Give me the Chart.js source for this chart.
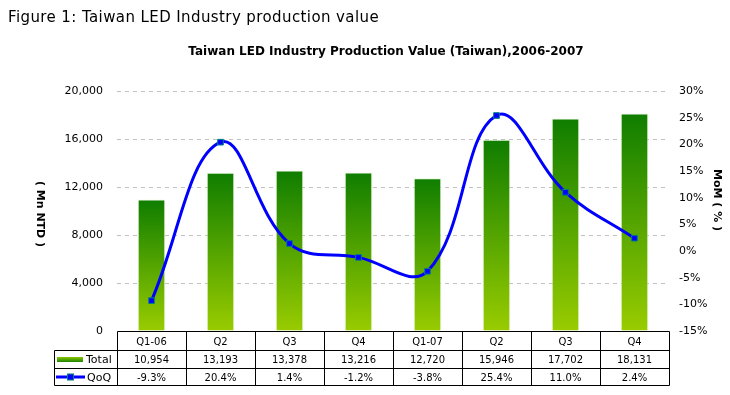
<!DOCTYPE html>
<html lang="en">
<head>
  <meta charset="UTF-8">
  <title>Taiwan LED Industry production value</title>
  <script src="https://cdn.jsdelivr.net/npm/chart.js"></script>
  <style>
    body { margin: 0; background: #fff; }
    #wrap { position: relative; width: 730px; height: 395px; }
    #figTitle {
      position: absolute; left: 8px; top: 8px;
      font: 15px "DejaVu Sans", Verdana, sans-serif; color: #000;
      letter-spacing: 0.4px;
      line-height: 18px; white-space: nowrap;
    }
    canvas { position: absolute; left: 0; top: 0; }
  </style>
</head>
<body>
<div id="wrap">
  <canvas id="grafico" width="730" height="395"></canvas>
  <div id="figTitle">Figure 1: Taiwan LED Industry production value</div>
</div>

<script>
  // dados
  const quarters = ['Q1-06', 'Q2', 'Q3', 'Q4', 'Q1-07', 'Q2', 'Q3', 'Q4'];
  const totalValues = [10954, 13193, 13378, 13216, 12720, 15946, 17702, 18131];
  const qoqValues = [-9.3, 20.4, 1.4, -1.2, -3.8, 25.4, 11.0, 2.4];
  const leftTicks = [0, 4000, 8000, 12000, 16000, 20000];
  const rightTicks = [-15, -10, -5, 0, 5, 10, 15, 20, 25, 30];

  const chartTitle = 'Taiwan LED Industry Production Value (Taiwan),2006-2007';
  const leftAxisTitle = '( Mn NTD )';
  const rightAxisTitle = 'MoM ( % )';

  const FONT = '"DejaVu Sans", Verdana, sans-serif';
  const GREEN_TOP = '#0f7d00';
  const GREEN_BOTTOM = '#99cc00';

  function fmt(n) {
    return n.toString().replace(/\B(?=(\d{3})+(?!\d))/g, ',');
  }

  function barGradient(c) {
    const chart = c.chart;
    if (!chart.chartArea || c.type !== 'data') return '#4c9f00';
    const y = chart.scales.y;
    const top = y.getPixelForValue(c.raw);
    const bottom = y.getPixelForValue(0);
    const g = chart.ctx.createLinearGradient(0, top, 0, bottom);
    g.addColorStop(0, GREEN_TOP);
    g.addColorStop(1, GREEN_BOTTOM);
    return g;
  }

  // títulos e tabela de dados desenhados por cima
  const extras = {
    id: 'extras',
    afterDraw(chart) {
      const ctx = chart.ctx;
      const area = chart.chartArea;
      const x = chart.scales.x;

      ctx.save();
      ctx.fillStyle = '#000';

      // título do gráfico
      ctx.font = 'bold 12px ' + FONT;
      ctx.textAlign = 'center';
      ctx.textBaseline = 'middle';
      ctx.fillText(chartTitle, 386, 52);

      // títulos dos eixos (lidos de cima para baixo)
      ctx.font = 'bold 11px ' + FONT;
      ctx.save();
      ctx.translate(40, 214);
      ctx.rotate(Math.PI / 2);
      ctx.fillText(leftAxisTitle, 0, 0);
      ctx.restore();
      ctx.save();
      ctx.translate(717, 200);
      ctx.rotate(Math.PI / 2);
      ctx.fillText(rightAxisTitle, 0, 0);
      ctx.restore();

      // tabela
      const colW = (area.right - area.left) / quarters.length;
      const y0 = Math.round(area.bottom) + 0.5;
      const y1 = y0 + 19;
      const y2 = y1 + 18;
      const y3 = y2 + 17;
      const legL = 54.5;
      const L = Math.round(area.left) + 0.5;
      const R = Math.round(area.right) + 0.5;

      ctx.strokeStyle = '#000';
      ctx.lineWidth = 1;
      ctx.beginPath();
      ctx.moveTo(L, y0); ctx.lineTo(R, y0);
      [y1, y2, y3].forEach(yy => { ctx.moveTo(legL, yy); ctx.lineTo(R, yy); });
      ctx.moveTo(legL, y1); ctx.lineTo(legL, y3);
      for (let i = 0; i <= quarters.length; i++) {
        const bx = Math.round(area.left + i * colW) + 0.5;
        ctx.moveTo(bx, y0); ctx.lineTo(bx, y3);
      }
      ctx.stroke();

      ctx.font = '10px ' + FONT;
      ctx.textAlign = 'center';
      ctx.textBaseline = 'middle';
      quarters.forEach((q, i) => {
        const cx = x.getPixelForValue(i);
        ctx.fillText(q, cx, (y0 + y1) / 2 + 1);
        ctx.fillText(fmt(totalValues[i]), cx, (y1 + y2) / 2 + 1);
        ctx.fillText(qoqValues[i].toFixed(1) + '%', cx, (y2 + y3) / 2 + 1);
      });

      // legenda da tabela
      const sy = (y1 + y2) / 2;
      const g = ctx.createLinearGradient(0, sy - 3, 0, sy + 3);
      g.addColorStop(0, GREEN_BOTTOM);
      g.addColorStop(1, GREEN_TOP);
      ctx.fillStyle = g;
      ctx.fillRect(57, sy - 2.5, 26, 5);

      const ly = (y2 + y3) / 2;
      ctx.strokeStyle = '#0000ff';
      ctx.lineWidth = 3;
      ctx.beginPath();
      ctx.moveTo(56, ly); ctx.lineTo(85, ly);
      ctx.stroke();
      ctx.fillStyle = '#0000ff';
      ctx.fillRect(67.5, ly - 3, 6, 6);
      ctx.strokeStyle = '#008080';
      ctx.lineWidth = 1;
      ctx.strokeRect(67.5, ly - 3, 6, 6);

      ctx.fillStyle = '#000';
      ctx.font = '11px ' + FONT;
      ctx.textAlign = 'left';
      ctx.fillText('Total', 86, sy + 1);
      ctx.fillText('QoQ', 87, ly + 1);
      ctx.restore();
    }
  };

  const ctx = document.getElementById('grafico').getContext('2d');

  new Chart(ctx, {
    data: {
      labels: quarters,
      datasets: [
        {
          type: 'line',
          label: 'QoQ',
          data: qoqValues,
          yAxisID: 'y1',
          order: 0,
          borderColor: '#0000ff',
          borderWidth: 3,
          tension: 0.4,
          pointStyle: 'rect',
          pointRadius: 4,
          pointBackgroundColor: '#0000ff',
          pointBorderColor: '#008080',
          pointBorderWidth: 1
        },
        {
          type: 'bar',
          label: 'Total',
          data: totalValues,
          yAxisID: 'y',
          order: 1,
          backgroundColor: barGradient,
          borderColor: 'rgba(220,245,200,0.7)',
          borderWidth: 1,
          barPercentage: 0.4,
          categoryPercentage: 1.0
        }
      ]
    },
    options: {
      responsive: false,
      animation: false,
      layout: { padding: { top: 91, bottom: 10, left: 0, right: 0 } },
      plugins: {
        legend: { display: false },
        tooltip: { enabled: false }
      },
      scales: {
        x: {
          offset: true,
          grid: { display: false },
          border: { display: false },
          ticks: { display: false },
          afterFit: s => { s.height = 54; }
        },
        y: {
          position: 'left',
          min: 0,
          max: 20000,
          afterBuildTicks: s => { s.ticks = leftTicks.map(v => ({ value: v })); },
          ticks: {
            color: '#000',
            padding: 14,
            font: { family: FONT, size: 11 },
            callback: v => fmt(v)
          },
          grid: { color: '#c0c0c0', drawTicks: false, lineWidth: 1 },
          border: { display: false, dash: [4, 4] },
          afterFit: s => { s.width = 117; }
        },
        y1: {
          position: 'right',
          min: -15,
          max: 30,
          afterBuildTicks: s => { s.ticks = rightTicks.map(v => ({ value: v })); },
          ticks: {
            color: '#000',
            padding: 10,
            font: { family: FONT, size: 11 },
            callback: v => v + '%'
          },
          grid: { display: false, drawTicks: false },
          border: { display: false },
          afterFit: s => { s.width = 61; }
        }
      }
    },
    plugins: [extras]
  });
</script>
</body>
</html>
